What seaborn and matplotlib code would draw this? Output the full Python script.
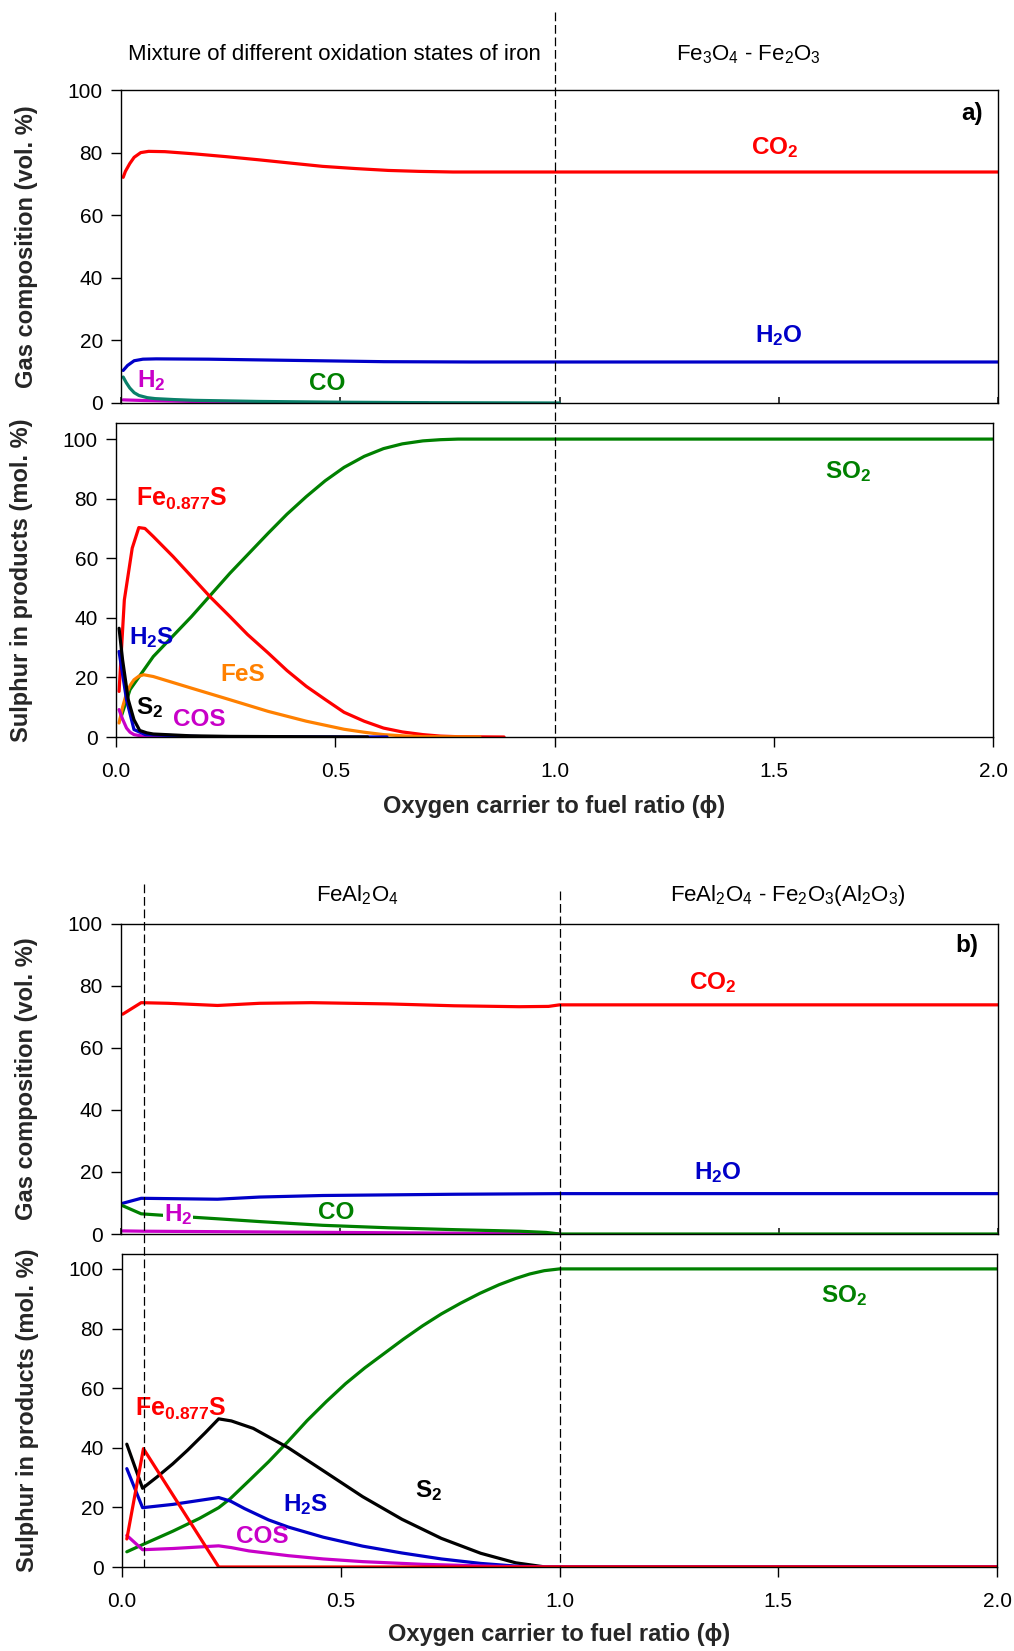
import numpy as np
import pandas as pd
import matplotlib
matplotlib.use("Agg")
import matplotlib.pyplot as plt
import seaborn as sns
from matplotlib.lines import Line2D
from matplotlib.transforms import blended_transform_factory

sns.set_theme(style="ticks")
plt.rcParams['font.family'] = ['Liberation Sans', 'DejaVu Sans']
plt.rcParams['mathtext.default'] = 'regular'

NARROW = ['Liberation Sans Narrow', 'Liberation Sans', 'DejaVu Sans']
REG = ['Liberation Sans', 'DejaVu Sans']

# ---------------- data: panel a, gas composition ----------------
a_co2_x = [0.005, 0.01, 0.02, 0.03, 0.045, 0.063, 0.1, 0.167, 0.24, 0.314, 0.39, 0.46, 0.535, 0.61, 0.68, 0.757, 1.0, 2.0]
a_co2_y = [72.1, 74.0, 76.5, 78.5, 80.0, 80.4, 80.3, 79.6, 78.7, 77.7, 76.6, 75.6, 74.9, 74.3, 74.0, 73.8, 73.8, 73.8]
a_h2o_x = [0.005, 0.015, 0.03, 0.05, 0.08, 0.2, 0.4, 0.6, 0.8, 1.0, 2.0]
a_h2o_y = [10.4, 12.0, 13.5, 14.0, 14.1, 14.0, 13.6, 13.2, 13.1, 13.1, 13.1]
a_co_x = [0.005, 0.012, 0.02, 0.03, 0.041, 0.06, 0.078, 0.12, 0.167, 0.314, 0.5, 0.7, 1.0]
a_co_y = [8.3, 6.5, 4.8, 3.3, 2.4, 1.7, 1.4, 1.1, 0.85, 0.5, 0.25, 0.1, 0.0]
a_h2_x = [0.005, 0.05, 0.2, 0.4, 0.7]
a_h2_y = [1.0, 0.8, 0.4, 0.1, 0.0]

# ---------------- data: panel a, sulphur in products ----------------
a_so2_x = [0.01, 0.032, 0.085, 0.172, 0.26, 0.347, 0.39, 0.434, 0.477, 0.52, 0.566, 0.61, 0.653, 0.70, 0.74, 0.78, 1.0, 2.0]
a_so2_y = [6.0, 15.9, 27.0, 40.4, 55.0, 68.4, 74.8, 80.7, 86.0, 90.5, 94.2, 96.8, 98.4, 99.4, 99.8, 100.0, 100.0, 100.0]
a_fes877_x = [0.007, 0.019, 0.037, 0.052, 0.066, 0.085, 0.13, 0.172, 0.215, 0.26, 0.30, 0.347, 0.39, 0.434, 0.478, 0.52, 0.566, 0.61, 0.653, 0.70, 0.74, 0.78, 0.885]
a_fes877_y = [15.3, 46.0, 63.4, 70.3, 70.0, 67.3, 60.6, 53.9, 47.0, 40.4, 34.4, 28.2, 22.3, 17.0, 12.5, 8.3, 5.3, 3.0, 1.7, 0.8, 0.3, 0.1, 0.0]
a_fes_x = [0.007, 0.015, 0.024, 0.033, 0.041, 0.052, 0.063, 0.085, 0.172, 0.26, 0.347, 0.434, 0.52, 0.566, 0.61, 0.653, 0.70, 0.83]
a_fes_y = [4.7, 10.0, 14.7, 17.5, 19.2, 20.4, 20.9, 20.3, 16.4, 12.5, 8.6, 5.3, 2.6, 1.6, 0.8, 0.4, 0.1, 0.0]
a_s2_x = [0.007, 0.015, 0.028, 0.041, 0.054, 0.07, 0.085, 0.17, 0.26, 0.574]
a_s2_y = [36.5, 25.9, 12.5, 5.8, 2.2, 1.4, 1.0, 0.4, 0.2, 0.0]
a_h2s_x = [0.007, 0.024, 0.041, 0.067, 0.2, 0.618]
a_h2s_y = [28.7, 12.5, 2.5, 0.8, 0.1, 0.0]
a_cos_x = [0.007, 0.015, 0.024, 0.032, 0.041, 0.06, 0.085, 0.4]
a_cos_y = [9.2, 6.0, 3.0, 1.6, 0.8, 0.3, 0.1, 0.0]

# ---------------- data: panel b, gas composition ----------------
b_co2_x = [0.004, 0.046, 0.108, 0.22, 0.316, 0.434, 0.61, 0.76, 0.908, 0.975, 1.0, 2.0]
b_co2_y = [70.8, 74.5, 74.3, 73.6, 74.3, 74.5, 74.1, 73.5, 73.2, 73.3, 73.8, 73.8]
b_h2o_x = [0.004, 0.046, 0.22, 0.316, 0.46, 0.76, 1.0, 2.0]
b_h2o_y = [9.9, 11.5, 11.2, 11.9, 12.4, 12.8, 13.0, 13.0]
b_co_x = [0.004, 0.046, 0.108, 0.22, 0.316, 0.46, 0.61, 0.76, 0.908, 0.97, 1.0, 2.0]
b_co_y = [9.1, 6.5, 5.9, 4.9, 4.0, 2.8, 2.0, 1.4, 0.9, 0.5, 0.0, 0.0]
b_h2_x = [0.004, 0.05, 0.5, 1.0]
b_h2_y = [1.0, 0.9, 0.5, 0.05]

# ---------------- data: panel b, sulphur in products ----------------
b_so2_x = [0.011, 0.047, 0.116, 0.177, 0.221, 0.248, 0.29, 0.335, 0.38, 0.423, 0.467, 0.511, 0.555, 0.599, 0.643, 0.687, 0.73, 0.774, 0.818, 0.862, 0.9, 0.932, 0.965, 1.0, 2.0]
b_so2_y = [5.1, 7.5, 12.0, 16.3, 19.9, 23.0, 28.9, 35.3, 42.2, 49.1, 55.5, 61.5, 66.8, 71.6, 76.4, 80.9, 84.9, 88.5, 91.8, 94.7, 96.8, 98.3, 99.4, 100.0, 100.0]
b_s2_x = [0.011, 0.047, 0.08, 0.116, 0.15, 0.19, 0.221, 0.25, 0.3, 0.38, 0.46, 0.55, 0.64, 0.73, 0.82, 0.9, 0.968, 2.0]
b_s2_y = [41.2, 26.4, 30.2, 34.6, 39.2, 45.0, 49.7, 49.0, 46.5, 40.0, 32.3, 23.6, 16.0, 9.6, 4.6, 1.4, 0.0, 0.0]
b_h2s_x = [0.011, 0.047, 0.116, 0.221, 0.248, 0.28, 0.335, 0.38, 0.46, 0.55, 0.64, 0.73, 0.82, 0.9, 0.968, 2.0]
b_h2s_y = [33.0, 19.9, 21.0, 23.3, 22.1, 19.6, 15.8, 13.4, 10.0, 7.0, 4.7, 2.7, 1.2, 0.3, 0.0, 0.0]
b_cos_x = [0.011, 0.047, 0.116, 0.221, 0.25, 0.29, 0.38, 0.46, 0.55, 0.687, 0.862, 0.97, 2.0]
b_cos_y = [10.6, 5.8, 6.2, 7.1, 6.5, 5.4, 3.8, 2.7, 1.8, 0.9, 0.2, 0.0, 0.0]
b_fes877_x = [0.011, 0.049, 0.221, 2.0]
b_fes877_y = [9.4, 39.7, 0.0, 0.0]

x_ticks = [0.0, 0.5, 1.0, 1.5, 2.0]
x_tick_labels = ['0.0', '0.5', '1.0', '1.5', '2.0']
y_ticks = [0, 20, 40, 60, 80, 100]

RED = '#ff0000'
BLUE = '#0000c8'
GREEN = '#008000'
TEAL = '#0a806a'
MAG = '#c800c8'
ORANGE = '#ff8000'
BLACK = '#000000'
LW = 2.3

W, H = 1014, 1651
fig = plt.figure(figsize=(W / 100, H / 100), dpi=100)


def rect(left, top, right, bottom):
    return [left / W, 1 - bottom / H, (right - left) / W, (bottom - top) / H]


ax_a1 = fig.add_axes(rect(121, 90, 998, 403))
ax_a2 = fig.add_axes(rect(116, 423, 993, 737))
ax_b1 = fig.add_axes(rect(121, 923.5, 998, 1234))
ax_b2 = fig.add_axes(rect(122, 1254, 997, 1567))


def draw(ax, xs, ys, color):
    df = pd.DataFrame({'x': xs, 'y': ys})
    sns.lineplot(data=df, x='x', y='y', ax=ax, color=color, lw=LW,
                 estimator=None, legend=False)


def style(ax, top_panel, ylabel, ymax):
    ax.set_xlim(0, 2.0)
    ax.set_ylim(0, ymax)
    ax.set_yticks(y_ticks)
    for s in ax.spines.values():
        s.set_visible(True)
        s.set_linewidth(1.0)
        s.set_color('black')
    ax.tick_params(axis='y', direction='out', length=7, width=1, pad=6, labelsize=15, colors='black')
    ax.set_ylabel(ylabel, fontsize=17, fontweight='bold', family=REG)
    ax.set_xticks(x_ticks)
    if top_panel:
        ax.set_xlabel('')
        ax.tick_params(axis='x', direction='in', length=4, labelbottom=False)
        for t in ax.get_yticklabels():
            t.set_family(NARROW)
    else:
        ax.set_xticklabels(x_tick_labels)
        ax.tick_params(axis='x', direction='out', length=7, width=1, pad=11, labelsize=15, colors='black')
        ax.set_xlabel('Oxygen carrier to fuel ratio (ϕ)', fontsize=17, fontweight='bold',
                      family=REG)
        for t in ax.get_yticklabels() + ax.get_xticklabels():
            t.set_family(REG)
    ax.grid(False)


# ---- panel a, gas
draw(ax_a1, a_co2_x, a_co2_y, RED)
draw(ax_a1, a_h2o_x, a_h2o_y, BLUE)
draw(ax_a1, a_h2_x, a_h2_y, MAG)
draw(ax_a1, a_co_x, a_co_y, TEAL)
style(ax_a1, True, 'Gas composition (vol. %)', 100)

# ---- panel a, sulphur
draw(ax_a2, a_so2_x, a_so2_y, GREEN)
draw(ax_a2, a_fes877_x, a_fes877_y, RED)
draw(ax_a2, a_fes_x, a_fes_y, ORANGE)
draw(ax_a2, a_cos_x, a_cos_y, MAG)
draw(ax_a2, a_h2s_x, a_h2s_y, BLUE)
draw(ax_a2, a_s2_x, a_s2_y, BLACK)
style(ax_a2, False, 'Sulphur in products (mol. %)', 105.4)

# ---- panel b, gas
draw(ax_b1, b_co2_x, b_co2_y, RED)
draw(ax_b1, b_h2o_x, b_h2o_y, BLUE)
draw(ax_b1, b_h2_x, b_h2_y, MAG)
draw(ax_b1, b_co_x, b_co_y, GREEN)
style(ax_b1, True, 'Gas composition (vol. %)', 100)

# ---- panel b, sulphur
draw(ax_b2, b_so2_x, b_so2_y, GREEN)
draw(ax_b2, b_s2_x, b_s2_y, BLACK)
draw(ax_b2, b_h2s_x, b_h2s_y, BLUE)
draw(ax_b2, b_cos_x, b_cos_y, MAG)
draw(ax_b2, b_fes877_x, b_fes877_y, RED)
style(ax_b2, False, 'Sulphur in products (mol. %)', 105)

for ax in (ax_a1, ax_a2, ax_b1, ax_b2):
    ax.yaxis.set_label_coords(-0.095, 0.5)
ax_a2.xaxis.set_label_coords(0.5, -0.185)
ax_b2.xaxis.set_label_coords(0.5, -0.18)


def lab(ax, x, y, s, color, narrow=False, size=17.5, box=False):
    kw = {}
    if box:
        kw['bbox'] = dict(boxstyle='square,pad=0.05', fc='white', ec='none')
    ax.text(x, y, s, color=color, fontsize=size, fontweight='bold',
            family=NARROW if narrow else REG, ha='center', va='center', clip_on=False,
            zorder=5, **kw)


# panel a labels
lab(ax_a1, 1.49, 81.5, 'CO$_2$', RED, narrow=True)
lab(ax_a1, 1.50, 21.5, 'H$_2$O', BLUE, narrow=True)
lab(ax_a1, 0.07, 7.2, 'H$_2$', MAG, narrow=True)
lab(ax_a1, 0.47, 6.2, 'CO', GREEN, narrow=True)
lab(ax_a1, 1.94, 92.5, 'a)', BLACK, narrow=True)

lab(ax_a2, 0.15, 80.0, 'Fe$_{0.877}$S', RED, size=18)
lab(ax_a2, 0.08, 33.5, 'H$_2$S', BLUE)
lab(ax_a2, 0.29, 21.0, 'FeS', ORANGE)
lab(ax_a2, 0.077, 9.8, 'S$_2$', BLACK)
lab(ax_a2, 0.19, 6.0, 'COS', MAG)
lab(ax_a2, 1.67, 89.0, 'SO$_2$', GREEN)

# panel b labels
lab(ax_b1, 1.35, 81.0, 'CO$_2$', RED, narrow=True)
lab(ax_b1, 1.36, 19.8, 'H$_2$O', BLUE, narrow=True)
lab(ax_b1, 0.13, 6.3, 'H$_2$', MAG, narrow=True, box=True)
lab(ax_b1, 0.49, 6.8, 'CO', GREEN, narrow=True)
lab(ax_b1, 1.93, 93.0, 'b)', BLACK, narrow=True)

lab(ax_b2, 0.135, 53.0, 'Fe$_{0.877}$S', RED, size=18)
lab(ax_b2, 0.70, 25.5, 'S$_2$', BLACK)
lab(ax_b2, 0.42, 21.0, 'H$_2$S', BLUE)
lab(ax_b2, 0.32, 10.3, 'COS', MAG)
lab(ax_b2, 1.65, 91.0, 'SO$_2$', GREEN)

# region headers
hdr = dict(fontsize=16, family=NARROW, ha='center', va='center', clip_on=False, color='black')
ax_a1.text(0.486, 111.3, 'Mixture of different oxidation states of iron', **hdr)
ax_a1.text(1.43, 111.3, 'Fe$_3$O$_4$ - Fe$_2$O$_3$', **hdr)
ax_b1.text(0.54, 109.0, 'FeAl$_2$O$_4$', **hdr)
ax_b1.text(1.52, 109.0, 'FeAl$_2$O$_4$ - Fe$_2$O$_3$(Al$_2$O$_3$)', **hdr)


# dashed region boundaries spanning the panels
def vdash(ax, xval, ytop_px, ybot_px):
    tr = blended_transform_factory(ax.transData, fig.transFigure)
    ln = Line2D([xval, xval], [1 - ytop_px / H, 1 - ybot_px / H], transform=tr,
                color='black', lw=0.9, dashes=(7, 3))
    fig.add_artist(ln)


vdash(ax_a2, 1.0, 11.7, 737)
vdash(ax_b2, 0.05, 884, 1567)
vdash(ax_b2, 1.0, 891, 1567)

fig.savefig('out.png', dpi=100)
